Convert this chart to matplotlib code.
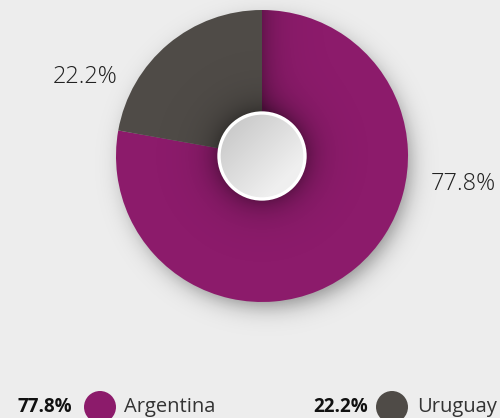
import matplotlib.pyplot as plt
import numpy as np
from matplotlib.patches import Circle

# Share of the two countries
countries = ['Argentina', 'Uruguay']
shares = [77.8, 22.2]
colors = ['#8c1b6b', '#4f4b47']

W, H = 500, 418
BG = '#ededed'

fig = plt.figure(figsize=(W / 100, H / 100), dpi=100)
fig.patch.set_facecolor(BG)
ax = fig.add_axes([0, 0, 1, 1])

cx, cy, r = 262, H - 156, 146
r_hole = 43

yy, xx = np.mgrid[0:H, 0:W] + 0.5
py = H - yy  # data y for each image row

# Soft drop shadow behind the ring
d = np.hypot(xx - (cx + 5), py - (cy - 8)) - (r - 4)
shade = 0.42 / (1 + np.exp(d / 6.5))
shadow = np.zeros((H, W, 4))
shadow[..., 3] = shade
ax.imshow(shadow, extent=[0, W, 0, H], zorder=0)

wedges, _ = ax.pie(shares, colors=colors, startangle=90, counterclock=False,
                   center=(cx, cy), radius=r, frame=True,
                   wedgeprops=dict(linewidth=0))

# Shading inside the ring: around the hole and along the top seam
rho = np.hypot(xx - cx, py - cy)
inner = 0.35 * np.exp(-np.clip(rho - r_hole, 0, None) / 14)
seam = np.where((xx > cx) & (py > cy), 0.28 * np.exp(-(xx - cx) / 14), 0)
ring_shade = np.zeros((H, W, 4))
ring_shade[..., 3] = np.clip(inner + seam, 0, 0.5)
im_ring = ax.imshow(ring_shade, extent=[0, W, 0, H], zorder=3)
im_ring.set_clip_path(Circle((cx, cy), r, transform=ax.transData))

# Hole with grey gradient and white rim
n = 200
gy, gx = np.mgrid[0:n, 0:n] / (n - 1)
t = np.clip((gx + gy) / 2 * 1.3, 0, 1)
g = 0.76 + 0.18 * t
hole_img = np.dstack([g, g, g])
im = ax.imshow(hole_img, extent=[cx - r_hole, cx + r_hole, cy - r_hole, cy + r_hole],
               origin='upper', zorder=4)
im.set_clip_path(Circle((cx, cy), r_hole, transform=ax.transData))
ax.add_patch(Circle((cx, cy), r_hole, fill=False, ec='white', lw=2.4, zorder=5))

# Percentage labels beside the ring
ax.text(85, H - 77, f'{shares[1]}%', fontsize=17, fontweight='light',
        color='#222222', ha='center', va='center', family='Open Sans')
ax.text(463, H - 184, f'{shares[0]}%', fontsize=17, fontweight='light',
        color='#222222', ha='center', va='center', family='Open Sans')

# Legend at the bottom
ly = H - 407
legend_x = [(72, 100, 124), (368, 392, 417)]
for (tx, mx, nx), name, val, col in zip(legend_x, countries, shares, colors):
    ax.text(tx, ly, f'{val}%', fontsize=13.5, fontweight='bold', color='#111111',
            ha='right', va='center', family='Open Sans')
    ax.add_patch(Circle((mx, ly), 16, color=col, lw=0))
    ax.text(nx, ly, name, fontsize=14.5, color='#333333', ha='left', va='center',
            family='Open Sans')

ax.set_xlim(0, W)
ax.set_ylim(0, H)
ax.set_aspect('equal')
ax.axis('off')

fig.savefig('out.png', dpi=100, facecolor=BG)
